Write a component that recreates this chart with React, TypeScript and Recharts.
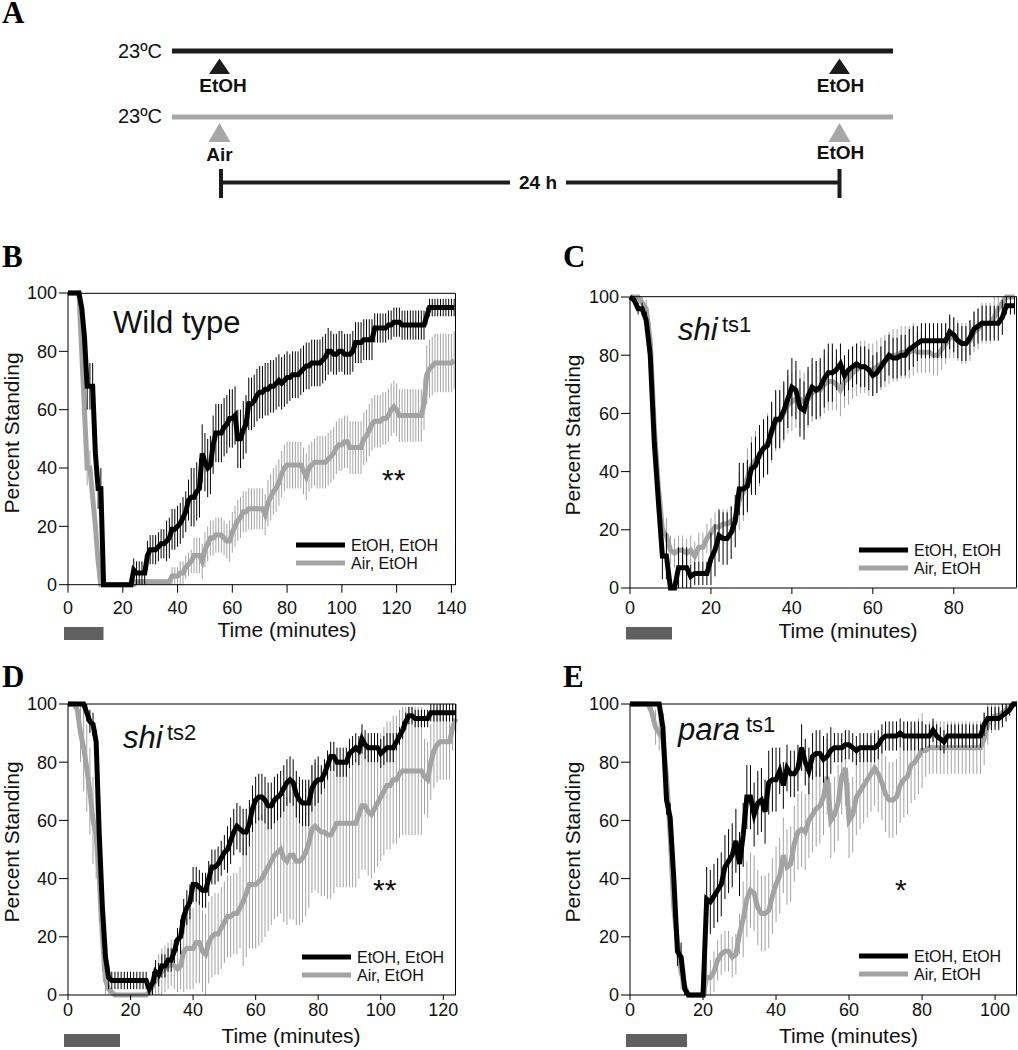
import React from 'react';
import { LineChart, Line, XAxis, YAxis, ErrorBar } from 'recharts';

const FONT = "'Liberation Sans', Arial, Helvetica, sans-serif";
const SERIF = "'Liberation Serif', 'Times New Roman', serif";
const BLACK = '#000000';
const GRAY = '#a3a3a3';

const yTicks = [0, 20, 40, 60, 80, 100];

// ---------- Panel B: Wild type ----------
const xTicksB = [0, 20, 40, 60, 80, 100, 120, 140];
const etohB = [100,100,100,100,100,95,85,68,68,68,45,33,33,0,
0,0,0,0,0,0,0,0,0,0,
5,4,4,4,4,10,12,12,12,13,14,14,15,16,19,19,20,21,23,25,29,30,30,32,33,45,42,40,41,48,52,52,52,54,55,57,57,58,50,50,53,55,62,62,63,65,66,66,67,67,68,68,69,70,69,70,71,71,72,72,72,73,74,75,75,76,76,76,76,77,78,80,80,79,79,80,80,79,79,79,80,83,83,83,84,84,84,84,88,88,88,88,88,89,89,90,90,90,89,89,89,89,89,89,89,89,89,
92,95,95,95,95,95,95,95,95,95,95];
const etohErrB = [0,0,0,0,0,0,0,8,8,8,8,7,7,0,0,0,0,0,0,0,0,0,0,0,4,4,4,4,4,5,5,5,5,5,5,5,7,7,7,7,7,7,7,7,7,
10,10,10,10,10,10,10,10,10,10,10,10,10,10,10,10,10,10,10,10,10,
9,9,9,9,9,9,9,9,9,9,9,9,9,9,9,
8,8,8,8,8,8,8,8,8,8,8,8,8,8,8,
7,7,7,7,7,7,7,7,7,7,7,7,7,7,7,7,
5,5,5,5,5,5,5,5,5,5,5,5,5,5,5,5,5,5,5,
3,3,3,3,3,3,3,3,3,3,3];
const airB = [100,100,100,100,100,80,60,40,40,30,20,8,0,
0,0,0,0,0,0,0,0,0,0,0,0,
1,1,1,1,1,1,1,1,1,1,1,1,1,
3,3,3,4,4,6,7,8,10,10,10,8,12,14,16,16,17,17,17,16,15,15,18,20,22,23,25,25,26,26,26,26,26,26,24,28,30,32,33,35,38,40,41,
41,41,41,41,41,39,37,40,41,42,42,42,42,42,43,44,45,47,48,48,49,49,47,47,47,47,47,50,51,53,55,56,56,56,57,57,58,60,61,60,58,
58,58,58,58,58,58,58,58,62,72,74,75,76,76,76,76,76,76,76,77];
const airErrB = [0,0,0,0,0,6,6,6,6,6,6,6,0,0,0,0,0,0,0,0,0,0,0,0,0,
1,1,1,1,1,1,1,1,1,1,1,1,1,3,3,3,4,4,4,4,4,
6,6,6,6,6,6,6,6,6,6,6,6,6,
7,7,7,7,7,7,7,7,7,7,7,7,7,7,
8,8,8,8,8,8,8,8,8,8,8,8,8,8,8,8,8,8,
9,9,9,9,9,9,9,9,9,9,9,9,9,9,9,9,9,9,9,9,
9,9,9,9,9,9,9,9,9,9,9,9,9,9,9,9,9,9,9,9,
10,10,10,10,10,10,10,10,10,10,10];

// ---------- Panel C: shi ts1 ----------
const xTicksC = [0, 20, 40, 60, 80];
const etohC = [100,99,96,96,92,80,50,30,11,11,0,0,7,7,7,4,5,5,5,5,10,13,18,17,17,19,23,34,34,35,41,42,46,48,49,54,58,58,61,65,69,68,62,61,66,69,68,69,72,74,74,75,77,73,75,76,77,76,76,75,73,74,76,78,80,79,79,80,80,82,83,84,85,85,85,85,85,85,85,88,87,85,84,84,86,89,90,91,91,91,91,91,93,97,97,97];
const etohErrC = [0,1,2,2,3,4,4,4,8,8,0,0,7,7,7,4,4,4,4,4,9,9,9,9,9,9,9,9,9,9,9,
10,10,10,10,10,10,10,10,10,10,10,10,10,10,10,10,10,10,10,10,
7,7,7,7,7,7,7,7,7,7,7,7,7,7,7,7,7,7,7,7,
6,6,6,6,6,6,6,6,6,6,6,6,6,6,6,6,6,6,6,6,6,6,3,3,3];
const airC = [100,100,100,98,96,85,55,35,20,18,13,12,13,13,12,13,11,14,14,17,19,21,21,22,22,23,24,30,33,38,42,44,45,48,50,53,57,58,60,63,64,65,65,64,65,67,68,68,70,71,71,70,68,71,72,74,75,76,76,75,75,76,77,78,79,80,80,81,81,81,82,81,81,81,81,80,80,82,84,86,86,85,84,84,85,88,89,91,91,91,93,96,98,100,100,100];
const airErrC = [0,0,0,2,3,6,6,6,6,6,5,5,5,5,5,5,5,5,5,5,5,5,5,5,5,5,5,
10,10,10,10,10,10,10,10,10,10,10,10,10,10,10,10,10,10,10,10,10,10,10,10,
9,9,9,9,9,9,9,9,9,9,9,9,9,9,9,9,9,9,9,9,
7,7,7,7,7,7,7,7,7,7,7,7,7,7,7,7,7,7,7,7,4,2,0,0,0];

// ---------- Panel D: shi ts2 ----------
const xTicksD = [0, 20, 40, 60, 80, 100, 120];
const etohD = [100,100,100,100,100,100,97,94,93,87,55,30,13,6,
5,5,5,5,5,5,5,5,5,5,5,5,
2,4,8,7,10,10,12,12,15,19,20,27,30,32,38,38,37,36,36,40,44,44,45,47,49,50,53,56,58,57,56,56,59,64,67,68,68,67,65,65,67,68,69,71,73,74,73,69,67,66,66,66,71,73,74,74,76,79,82,82,80,80,80,80,83,84,85,84,88,86,85,85,85,85,83,84,85,85,85,87,89,91,94,96,96,95,95,95,95,95,97,
97,97,97,97,97,97,97,97];
const etohErrD = [0,0,0,0,0,0,3,4,4,4,4,4,4,4,
3,3,3,3,3,3,3,3,3,3,3,3,
2,4,4,4,4,4,4,4,4,4,
6,6,6,6,6,6,6,6,6,6,6,6,6,6,6,
8,8,8,8,8,8,8,8,8,8,8,8,8,8,8,8,8,8,8,8,8,8,8,8,8,8,8,8,8,8,
5,5,5,5,5,5,5,5,5,5,5,5,5,5,5,5,5,5,5,5,5,5,5,5,
3,3,3,3,3,3,3,3,3,3,3,3,3,3,3,3,3,3,3,3];
const airD = [100,100,100,98,90,85,78,70,60,55,40,20,5,2,1,
0,0,0,0,0,0,0,0,0,0,0,
1,3,5,7,8,9,10,11,10,9,10,15,16,16,16,18,18,15,14,18,20,21,21,23,25,27,27,28,28,30,32,35,38,38,38,39,40,42,44,46,48,49,50,47,46,48,48,46,46,47,49,52,57,58,57,56,56,55,55,57,59,59,59,59,59,59,59,62,65,65,63,62,64,66,68,70,72,72,74,74,76,77,77,77,77,77,77,77,75,74,80,84,86,87,87,87,87,92,95];
const airErrD = [0,0,0,0,10,15,15,15,15,15,15,12,5,2,1,
0,0,0,0,0,0,0,0,0,0,0,
1,3,5,7,8,8,8,8,8,8,
8,14,14,14,14,14,14,14,14,14,14,14,14,14,14,14,14,14,14,14,
22,22,22,22,22,22,22,22,22,22,22,22,22,22,22,22,22,22,22,22,22,22,22,22,22,22,22,22,22,22,22,22,22,22,22,
22,22,22,22,22,22,22,22,22,22,22,22,22,22,22,22,22,22,22,22,22,22,22,
13,13,13,13,13,13,13,13,13,8,5];

// ---------- Panel E: para ts1 ----------
const xTicksE = [0, 20, 40, 60, 80, 100];
const etohE = [100,100,100,100,100,100,100,100,100,92,67,61,40,15,13,2,
0,0,0,0,0,
33,32,34,36,38,44,46,48,53,45,55,68,68,62,66,67,63,73,74,74,77,72,78,76,76,78,85,80,77,82,83,83,81,82,84,85,85,85,86,86,85,84,85,85,85,85,85,86,88,89,89,89,89,90,89,89,89,89,89,89,89,89,91,89,88,87,
89,89,89,89,89,89,89,89,89,89,
93,95,95,95,95,96,97,98,100,100];
const etohErrE = [0,0,0,0,0,0,0,0,0,5,5,5,5,5,5,2,
0,0,0,0,0,
11,11,11,11,11,11,11,11,11,11,11,11,11,11,11,11,11,11,11,11,
8,8,8,8,8,8,8,8,8,8,8,8,8,8,8,
5,5,5,5,5,5,5,5,5,5,5,5,5,5,5,5,5,5,5,5,5,5,5,5,5,
4,4,4,4,4,4,4,4,4,4,4,4,4,4,4,4,4,4,4,4,4,4,3,2,0,0];
const airE = [100,100,100,100,100,100,97,92,90,88,75,55,30,18,8,3,
0,0,0,0,0,
6,6,8,12,14,15,15,13,14,21,26,33,36,35,30,28,28,29,34,38,41,48,44,45,52,56,57,56,60,62,64,65,68,75,60,62,66,75,78,60,62,68,70,72,74,76,78,76,73,69,67,67,68,72,74,75,79,80,82,84,84,
85,85,85,85,85,85,85,85,85,85,85,85,85,85,85,
88,93,95,96,96,97,98,99,100,100];
const airErrE = [0,0,0,0,0,0,3,6,6,6,6,6,6,6,6,3,
0,0,0,0,0,
6,6,7,7,7,7,7,7,7,7,
13,13,13,13,13,13,13,13,13,13,13,13,13,13,13,13,13,13,13,13,13,13,13,13,13,13,13,13,13,13,
13,13,13,13,13,13,13,13,13,13,13,13,13,13,13,13,13,13,13,13,
9,9,9,9,9,9,9,9,9,9,9,9,9,9,9,9,9,7,5,4,4,3,2,1,0,0];

type PanelDef = {
  left: number; right: number; top: number; bottom: number;
  xMax: number; xTicks: number[]; tickSize: number; tickMargin: number;
  etoh: number[]; etohErr: number[]; air: number[]; airErr: number[];
};

function buildRows(p: PanelDef) {
  const n = Math.max(p.etoh.length, p.air.length);
  const rows: any[] = [];
  for (let i = 0; i < n; i++) {
    if (i > p.xMax) break;
    rows.push({
      t: i,
      a: p.etoh[i],
      ae: p.etohErr[i] ?? 0,
      g: p.air[i],
      ge: p.airErr[i] ?? 0,
    });
  }
  return rows;
}

const panels: Record<string, PanelDef> = {
  B: { left: 67.7, right: 455.5, top: 293.3, bottom: 585, xMax: 141.6, xTicks: xTicksB, tickSize: 8, tickMargin: 9, etoh: etohB, etohErr: etohErrB, air: airB, airErr: airErrB },
  C: { left: 630, right: 1016.5, top: 296.7, bottom: 587.7, xMax: 95.5, xTicks: xTicksC, tickSize: 6, tickMargin: 7, etoh: etohC, etohErr: etohErrC, air: airC, airErr: airErrC },
  D: { left: 67.7, right: 455.5, top: 704, bottom: 995, xMax: 124, xTicks: xTicksD, tickSize: 5, tickMargin: 3, etoh: etohD, etohErr: etohErrD, air: airD, airErr: airErrD },
  E: { left: 629.5, right: 1016.5, top: 704, bottom: 995, xMax: 106, xTicks: xTicksE, tickSize: 5, tickMargin: 3, etoh: etohE, etohErr: etohErrE, air: airE, airErr: airErrE },
};

const tickStyle = { fill: '#111', fontSize: 18, fontFamily: FONT };

function Panel({ p }: { p: PanelDef }) {
  const W = p.right - p.left;
  const H = p.bottom - p.top;
  const rows = buildRows(p);
  return (
    <div style={{ position: 'absolute', left: p.left - 60, top: p.top - 10 }}>
      <LineChart width={W + 80} height={H + 60} data={rows} margin={{ top: 10, right: 20, bottom: 0, left: 0 }}>
        <XAxis
          type="number"
          dataKey="t"
          domain={[0, p.xMax]}
          ticks={p.xTicks}
          interval={0}
          height={50}
          tickSize={p.tickSize}
          tickMargin={p.tickMargin}
          axisLine={{ stroke: '#000', strokeWidth: 1 }}
          tickLine={{ stroke: '#000', strokeWidth: 1 }}
          tick={tickStyle}
        />
        <YAxis
          type="number"
          domain={[0, 100]}
          ticks={yTicks}
          interval={0}
          width={60}
          tickSize={9}
          tickMargin={2}
          axisLine={{ stroke: '#000', strokeWidth: 1 }}
          tickLine={{ stroke: '#000', strokeWidth: 1 }}
          tick={tickStyle}
        />
        <Line dataKey="g" type="linear" stroke={GRAY} strokeWidth={5} dot={false} activeDot={false} isAnimationActive={false}>
          <ErrorBar dataKey="ge" direction="y" width={0} stroke={GRAY} strokeWidth={1} />
        </Line>
        <Line dataKey="a" type="linear" stroke={BLACK} strokeWidth={5} dot={false} activeDot={false} isAnimationActive={false}>
          <ErrorBar dataKey="ae" direction="y" width={0} stroke={BLACK} strokeWidth={1} />
        </Line>
      </LineChart>
    </div>
  );
}

function Frame({ p }: { p: PanelDef }) {
  return (
    <g>
      <line x1={p.left} y1={p.top} x2={p.right} y2={p.top} stroke="#000" strokeWidth={1} />
      <line x1={p.right} y1={p.top} x2={p.right} y2={p.bottom} stroke="#000" strokeWidth={1} />
    </g>
  );
}

function Legend({ x, y, tx }: { x: number; y: number; tx: number }) {
  return (
    <g>
      <line x1={x} y1={y} x2={x + 49} y2={y} stroke={BLACK} strokeWidth={5} />
      <line x1={x} y1={y + 18} x2={x + 49} y2={y + 18} stroke={GRAY} strokeWidth={5} />
      <text x={tx} y={y + 6} fontSize={16} fontFamily={FONT} fill="#111">EtOH, EtOH</text>
      <text x={tx} y={y + 24} fontSize={16} fontFamily={FONT} fill="#111">Air, EtOH</text>
    </g>
  );
}

function AxisTitles({ tx, ty, yx, yy }: { tx: number; ty: number; yx: number; yy: number }) {
  return (
    <g fontFamily={FONT} fontSize={21} fill="#111">
      <text x={tx} y={ty} textAnchor="middle">Time (minutes)</text>
      <text x={yx} y={yy} textAnchor="middle" transform={`rotate(-90 ${yx} ${yy})`}>Percent Standing</text>
    </g>
  );
}

function Schematic() {
  const dark = '#1c1c1c';
  const lg = '#a7a7a7';
  return (
    <g fontFamily={FONT}>
      <text x={2} y={23} fontFamily={SERIF} fontWeight="bold" fontSize={31} fill="#000">A</text>
      <text x={162} y={58} textAnchor="end" fontSize={20} fill="#111">23ºC</text>
      <rect x={172} y={48.5} width={721} height={5} fill={dark} />
      <polygon points="219.5,58.5 209,74 230,74" fill={dark} />
      <polygon points="839.5,58.5 829,74 850,74" fill={dark} />
      <text x={223} y={92} textAnchor="middle" fontSize={19} fontWeight="bold" fill="#111">EtOH</text>
      <text x={840.5} y={92} textAnchor="middle" fontSize={19} fontWeight="bold" fill="#111">EtOH</text>

      <text x={162} y={123} textAnchor="end" fontSize={20} fill="#111">23ºC</text>
      <rect x={172} y={114.5} width={721} height={5} fill={lg} />
      <polygon points="219.5,123 208.5,142 230.5,142" fill={lg} />
      <polygon points="839.5,123 828.5,142 850.5,142" fill={lg} />
      <text x={219.5} y={161} textAnchor="middle" fontSize={19} fontWeight="bold" fill="#111">Air</text>
      <text x={840.5} y={159} textAnchor="middle" fontSize={19} fontWeight="bold" fill="#111">EtOH</text>

      <line x1={221} y1={169} x2={221} y2={198} stroke={dark} strokeWidth={4} />
      <line x1={839.5} y1={169} x2={839.5} y2={198} stroke={dark} strokeWidth={4} />
      <line x1={221} y1={182.5} x2={510} y2={182.5} stroke={dark} strokeWidth={4} />
      <line x1={566} y1={182.5} x2={839.5} y2={182.5} stroke={dark} strokeWidth={4} />
      <text x={538} y={189} textAnchor="middle" fontSize={19} fontWeight="bold" fill="#111">24 h</text>
    </g>
  );
}

function Overlay() {
  const letter = { fontFamily: SERIF, fontWeight: 'bold' as const, fontSize: 31, fill: '#000' };
  const bar = '#606060';
  return (
    <svg width={1018} height={1050} style={{ position: 'absolute', left: 0, top: 0, pointerEvents: 'none' }}>
      <Schematic />

      {/* Panel B */}
      <text x={2} y={267} {...letter}>B</text>
      <Frame p={panels.B} />
      <text x={113} y={333} fontFamily={FONT} fontSize={31} fill="#111">Wild type</text>
      <text x={382} y={490} fontFamily={FONT} fontSize={30} fill="#111">**</text>
      <Legend x={296} y={545} tx={351} />
      <rect x={64} y={627} width={39.5} height={13} fill={bar} />
      <AxisTitles tx={287} ty={637} yx={18.5} yy={433} />

      {/* Panel C */}
      <text x={563} y={267} {...letter}>C</text>
      <Frame p={panels.C} />
      <text x={678} y={340} fontFamily={FONT} fontSize={31} fontStyle="italic" fill="#111">shi</text>
      <text x={722} y={332} fontFamily={FONT} fontSize={22} fill="#111">ts1</text>
      <Legend x={859} y={550} tx={914} />
      <rect x={626} y={627} width={46} height={12.5} fill={bar} />
      <AxisTitles tx={848} ty={638} yx={580} yy={435} />

      {/* Panel D */}
      <text x={2} y={687} {...letter}>D</text>
      <Frame p={panels.D} />
      <text x={123} y={748} fontFamily={FONT} fontSize={31} fontStyle="italic" fill="#111">shi</text>
      <text x={167} y={740} fontFamily={FONT} fontSize={22} fill="#111">ts2</text>
      <text x={373} y={900} fontFamily={FONT} fontSize={30} fill="#111">**</text>
      <Legend x={302} y={957} tx={357} />
      <rect x={64} y={1034} width={56} height={13} fill={bar} />
      <AxisTitles tx={291} ty={1043} yx={18.5} yy={842} />

      {/* Panel E */}
      <text x={563} y={687} {...letter}>E</text>
      <Frame p={panels.E} />
      <text x={678} y={740} fontFamily={FONT} fontSize={31} fontStyle="italic" fill="#111">para</text>
      <text x={746} y={732} fontFamily={FONT} fontSize={22} fill="#111">ts1</text>
      <text x={895} y={900} fontFamily={FONT} fontSize={30} fill="#111">*</text>
      <Legend x={859} y={956} tx={914} />
      <rect x={626} y={1034} width={61} height={13} fill={bar} />
      <AxisTitles tx={848.5} ty={1043} yx={580} yy={842} />
    </svg>
  );
}

export default function App() {
  return (
    <div style={{ position: 'absolute', left: 0, top: 0, width: 1018, height: 1050, overflow: 'hidden', background: '#fff', fontFamily: FONT }}>
      <Panel p={panels.B} />
      <Panel p={panels.C} />
      <Panel p={panels.D} />
      <Panel p={panels.E} />
      <Overlay />
    </div>
  );
}
